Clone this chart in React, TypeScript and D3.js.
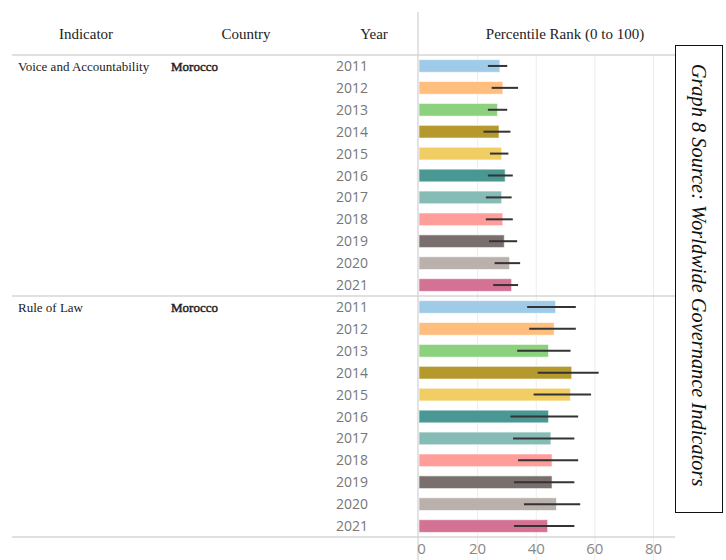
import React from "react";
import * as d3 from "d3";

const indicators = ["Voice and Accountability", "Rule of Law"];
const country = "Morocco";
const years = ["2011", "2012", "2013", "2014", "2015", "2016", "2017", "2018", "2019", "2020", "2021"];
const voiceValues = [27.6, 28.6, 26.8, 27.3, 28.2, 29.4, 28.2, 28.6, 29.1, 30.9, 31.6];
const voiceLow = [23.5, 24.8, 23.5, 22.0, 24.2, 23.5, 22.8, 22.8, 23.9, 25.8, 25.3];
const voiceHigh = [30.1, 33.8, 30.1, 31.2, 30.5, 32.0, 31.6, 32.0, 33.5, 34.5, 33.8];
const lawValues = [46.6, 46.1, 44.2, 52.1, 51.7, 44.2, 45.0, 45.4, 45.4, 46.9, 43.9];
const lawLow = [36.9, 37.6, 33.5, 40.5, 39.1, 31.2, 32.1, 33.8, 32.4, 35.8, 32.4];
const lawHigh = [53.5, 53.5, 51.7, 61.3, 58.7, 54.3, 53.0, 54.3, 53.0, 55.0, 53.0];
const yearColors = ["#a0cbe8", "#ffbe7d", "#8cd17d", "#b6992d", "#f1ce63", "#499894", "#86bcb6", "#ff9d9a", "#79706e", "#bab0ac", "#d37295"];
const xTicks = [0, 20, 40, 60, 80];
const headers = ["Indicator", "Country", "Year", "Percentile Rank (0 to 100)"];
const sourceNote = "Graph 8 Source: Worldwide Governance Indicators";

export default function App() {
  const W = 726, H = 560;
  const headerBottom = 55;
  const panelH = 241;
  const axisX = 418;
  const x = d3.scaleLinear().domain([0, 87]).range([419, 674]);
  const series = [
    { vals: voiceValues, lo: voiceLow, hi: voiceHigh },
    { vals: lawValues, lo: lawLow, hi: lawHigh },
  ];
  const serif = "'Liberation Serif', 'Times New Roman', serif";
  const sans = "'Open Sans', 'Noto Sans', sans-serif";

  return (
    <svg width={W} height={H} style={{ position: "absolute", left: 0, top: 0, background: "#fff" }}>
      {/* header texts */}
      <text x={86} y={39} textAnchor="middle" fontFamily={serif} fontSize={15} fill="#222">{headers[0]}</text>
      <text x={246} y={39} textAnchor="middle" fontFamily={serif} fontSize={15} fill="#222">{headers[1]}</text>
      <text x={374} y={39} textAnchor="middle" fontFamily={serif} fontSize={15} fill="#222">{headers[2]}</text>
      <text x={565} y={39} textAnchor="middle" fontFamily={serif} fontSize={15} fill="#222">{headers[3]}</text>

      {/* gridlines */}
      {xTicks.filter((t) => t > 0).map((t) => (
        <line key={t} x1={x(t)} x2={x(t)} y1={headerBottom} y2={H} stroke="#ececec" strokeWidth={1} />
      ))}

      {series.map((s, pi) => {
        const top = headerBottom + pi * panelH;
        const y = d3.scaleBand().domain(years).range([top, top + panelH]).paddingInner(0.42).paddingOuter(0.21);
        return (
          <g key={pi}>
            <text x={18} y={top + 16} fontFamily={serif} fontSize={13} fill="#222">{indicators[pi]}</text>
            <text x={171} y={top + 16} fontFamily={serif} fontSize={13} fill="#222" stroke="#222" strokeWidth={0.45}>{country}</text>
            {years.map((yr, i) => {
              const yc = (y(yr) as number) + y.bandwidth() / 2;
              return (
                <g key={yr}>
                  <text x={352} y={yc + 5} textAnchor="middle" fontFamily={sans} fontSize={14} fill="#777">{yr}</text>
                  <rect x={x(0)} y={y(yr)} width={x(s.vals[i]) - x(0)} height={y.bandwidth()} fill={yearColors[i]} stroke="#ffffff" strokeOpacity={0.6} strokeWidth={1} />
                  <line x1={x(s.lo[i])} x2={x(s.hi[i])} y1={yc} y2={yc} stroke="#333" strokeWidth={2} />
                </g>
              );
            })}
          </g>
        );
      })}

      {/* horizontal dividers */}
      {[0, 1, 2].map((k) => (
        <line key={k} x1={12} x2={675} y1={headerBottom + k * panelH} y2={headerBottom + k * panelH} stroke="#d6d6d6" strokeWidth={1.5} />
      ))}

      {/* vertical axis line */}
      <line x1={axisX} x2={axisX} y1={12} y2={H} stroke="#d0d0d0" strokeWidth={1.2} />

      {/* x tick labels */}
      {xTicks.map((t) => (
        <text key={t} x={t === 0 ? x(t) + 2.5 : x(t)} y={554} textAnchor="middle" fontFamily={sans} fontSize={15} fill="#888">{t}</text>
      ))}

      {/* source box */}
      <rect x={675.5} y={45.5} width={47} height={467} fill="#fff" stroke="#111" strokeWidth={1} />
      <text transform="translate(692,275) rotate(90)" textAnchor="middle" fontFamily={serif} fontStyle="italic" fontSize={20.4} fill="#111">{sourceNote}</text>
    </svg>
  );
}
